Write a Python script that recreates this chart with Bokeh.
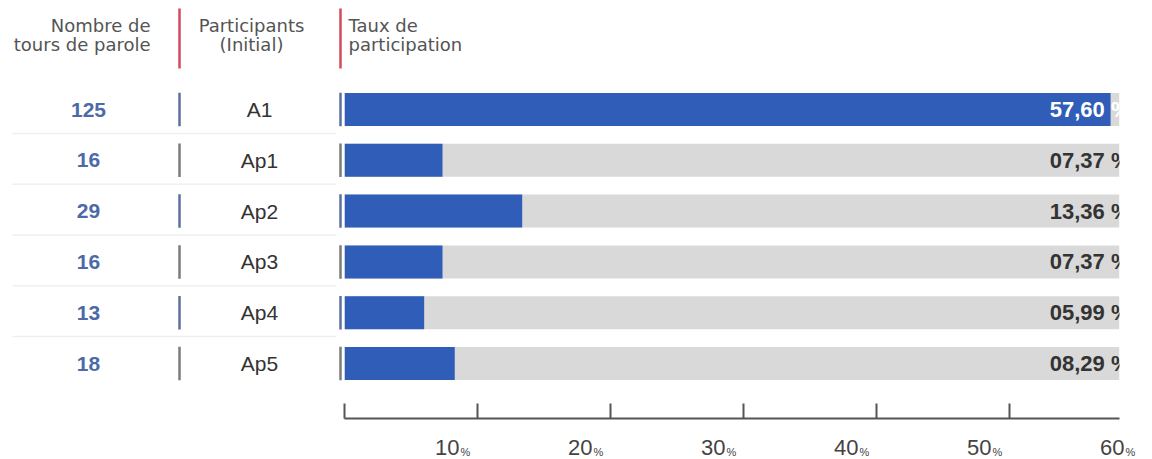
import numpy as np
from bokeh.plotting import figure
from bokeh.layouts import row
from bokeh.models import Range1d, FixedTicker
from bokeh.core.properties import value
from bokeh.embed import file_html
from bokeh.resources import INLINE

# ---------------- data ----------------
participants = ["A1", "Ap1", "Ap2", "Ap3", "Ap4", "Ap5"]
tours_de_parole = [125, 16, 29, 16, 13, 18]
taux = [57.60, 7.37, 13.36, 7.37, 5.99, 8.29]
tick_values = [10, 20, 30, 40, 50, 60]
header_tours = "Nombre de\ntours de parole"
header_part = "Participants\n(Initial)"
header_taux = "Taux de\nparticipation"

# ---------------- style ----------------
BAR = "#2f5db8"
TRACK = "#d9d9d9"
NUM_BLUE = "#4d6aa8"
DARK = "#333333"
HEAD = "#545454"
RED = "#d24a5c"
SEP_A = "#5d6f9c"
SEP_B = "#7b7b7b"
W, H = 1152, 459
LEFT_W = 342
FRAME_L, FRAME_R, FRAME_B = 344, 1119, 418
PX_PER_PCT = 13.3

rows_y = np.arange(len(participants))
# y in row units; page y of row 0 centre = 109, spacing 50.8 px
def ry(page_y):
    return (page_y - 109) / 50.8

yr = Range1d(start=ry(FRAME_B), end=ry(0))

label_strings = [f"{v:05.2f}".replace(".", ",") + " %" for v in taux]
label_colors = ["white" if v > 50 else DARK for v in taux]
sep_colors = [SEP_A if i % 2 == 0 else SEP_B for i in range(len(participants))]

# ---------------- left: table columns ----------------
left = figure(width=LEFT_W, height=H, x_range=Range1d(0, LEFT_W), y_range=yr,
              output_backend="svg", toolbar_location=None,
              x_axis_location=None, y_axis_location=None,
              min_border_left=0, min_border_right=0, min_border_top=0,
              min_border_bottom=H - FRAME_B)
left.grid.visible = False
left.outline_line_color = None

# faint row separators
left.segment(x0=12, x1=336, y0=rows_y[:-1] + 0.47, y1=rows_y[:-1] + 0.47,
             line_color="#efefef", line_width=1.5)

# header red lines and row separators
for xs in (179, 340):
    left.segment(x0=xs, x1=xs, y0=ry(8), y1=ry(68), line_color=RED, line_width=2.5)
    left.segment(x0=xs, x1=xs, y0=rows_y - 0.33, y1=rows_y + 0.33,
                 line_color=sep_colors, line_width=2.5)

left.text(x=88, y=rows_y, text=[str(t) for t in tours_de_parole],
          text_align="center", text_baseline="middle",
          text_font=value("Liberation Sans"), text_font_style="bold",
          text_font_size="21px", text_color=NUM_BLUE)
left.text(x=259, y=rows_y, text=participants,
          text_align="center", text_baseline="middle",
          text_font=value("Liberation Sans"),
          text_font_size="21px", text_color=DARK)

left.text(x=[150], y=[ry(14)], text=[header_tours], text_align="right",
          text_baseline="top", text_font=value("DejaVu Sans"),
          text_font_size="18px", text_color=HEAD, text_line_height=0.95)
left.text(x=[251], y=[ry(14)], text=[header_part], text_align="center",
          text_baseline="top", text_font=value("DejaVu Sans"),
          text_font_size="18px", text_color=HEAD, text_line_height=0.95)

# ---------------- right: bars ----------------
track_end = (FRAME_R - FRAME_L) / PX_PER_PCT
right = figure(width=W - LEFT_W, height=H, x_range=Range1d(0, track_end), y_range=yr,
               output_backend="svg", toolbar_location=None,
               y_axis_location=None,
               min_border_left=FRAME_L - LEFT_W, min_border_right=W - FRAME_R,
               min_border_top=0, min_border_bottom=H - FRAME_B)
right.grid.visible = False
right.outline_line_color = None

right.hbar(y=rows_y, left=0, right=track_end, height=0.65,
           fill_color=TRACK, line_color=None)
right.hbar(y=rows_y, left=0, right=taux, height=0.65,
           fill_color=BAR, line_color=None)

right.text(x=track_end, y=rows_y, text=label_strings, x_offset=11,
           text_align="right", text_baseline="middle",
           text_font=value("Liberation Sans"), text_font_style="bold",
           text_font_size="22px", text_color=label_colors)

right.text(x=[0], y=[ry(14)], text=[header_taux], x_offset=4,
           text_align="left", text_baseline="top",
           text_font=value("DejaVu Sans"), text_font_size="18px",
           text_color=HEAD, text_line_height=0.95)

ticks = [0] + tick_values
ax = right.xaxis[0]
ax.ticker = FixedTicker(ticks=ticks)
ax.major_label_overrides = {t: "" for t in ticks}
ax.major_tick_in = 15
ax.major_tick_out = 0
ax.minor_tick_line_color = None
ax.axis_line_width = 2
ax.axis_line_color = "#555555"
ax.major_tick_line_width = 2
ax.major_tick_line_color = "#555555"
ax.major_label_standoff = 0

r1 = right.text(x=tick_values, y=yr.start, text=[str(t) for t in tick_values],
                x_offset=-18, y_offset=29, text_align="right",
                text_baseline="middle",
                text_font=value("Liberation Sans"),
                text_font_size="22px", text_color="#444444")
r2 = right.text(x=tick_values, y=yr.start, text=["%"] * len(tick_values),
                x_offset=-17, y_offset=33, text_align="left",
                text_baseline="middle",
                text_font=value("Liberation Sans"),
                text_font_size="11px", text_color="#444444")
r1.level = "overlay"
r2.level = "overlay"

layout = row(left, right)
open("out.html", "w").write(file_html(layout, INLINE))
